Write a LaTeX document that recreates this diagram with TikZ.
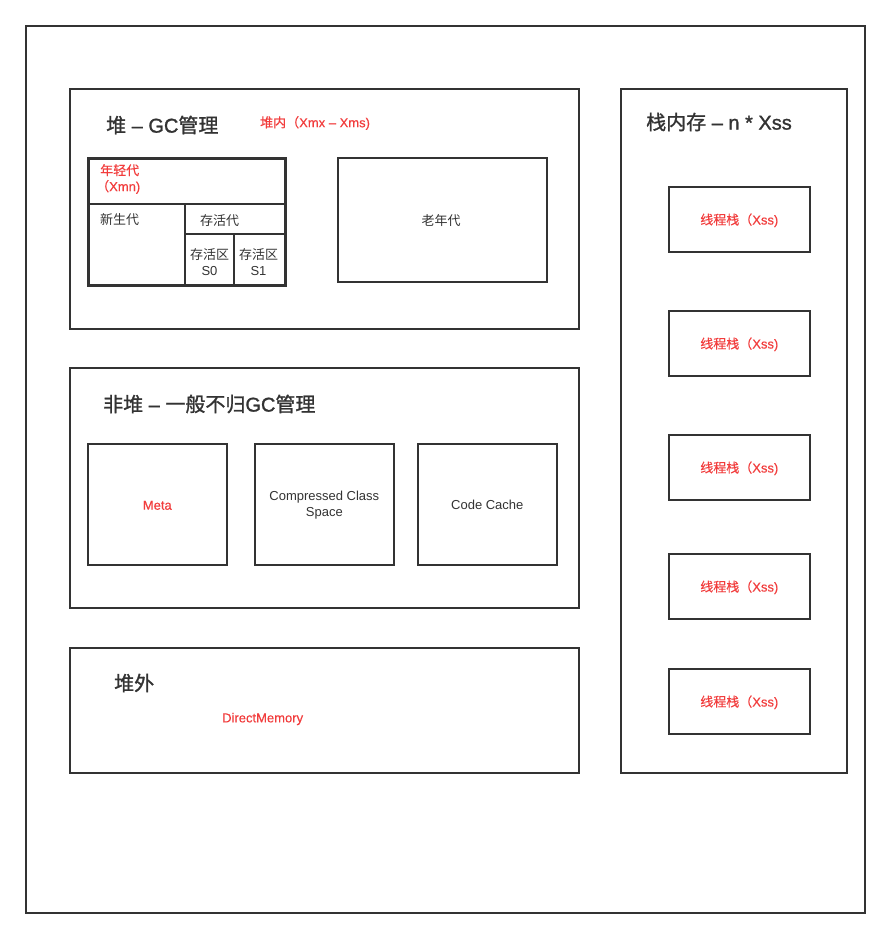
\documentclass[tikz,border=0pt]{standalone}
\usepackage{fontspec}
\setmainfont{Liberation Sans}
\newfontfamily\cjk{Noto Sans CJK SC}
\newfontfamily\cjkmed{Noto Sans CJK SC}[FakeBold=0.4]
\newfontfamily\cjkbold{Noto Sans CJK SC}[FakeBold=1.2]
\newfontfamily\latmed{Liberation Sans}[FakeBold=0.4]
\newfontfamily\latsemi{Liberation Sans}[FakeBold=1.3]
\definecolor{ink}{HTML}{333333}
\definecolor{hot}{HTML}{F23D3D}
% Chinese runs inside Latin text
\newcommand{\zh}[1]{{\cjk #1}}
\newcommand{\zhm}[1]{{\cjkmed #1}}
\newcommand{\zhb}[1]{{\cjkbold #1}}
\tikzset{
  x=1pt, y=-1pt,
  frame/.style={draw=ink, line width=1.6pt, fill=none, inner sep=0pt, anchor=north west},
  thick frame/.style={frame, line width=2.6pt},
  title/.style={text=ink, font=\latsemi\fontsize{20}{22}\selectfont, inner sep=0pt, anchor=west},
  note/.style={text=hot, font=\latmed\fontsize{13}{15}\selectfont, inner sep=0pt},
  plain/.style={text=ink, font=\fontsize{13}{16}\selectfont, inner sep=0pt, align=center},
}
\newcommand{\boxat}[6][frame]{%
  \node[#1, minimum width=#5-#3, minimum height=#6-#4] (#2) at (#3,#4) {};}
\begin{document}
\begin{tikzpicture}
\useasboundingbox (0,0) rectangle (889,937);
\fill[white] (0,0) rectangle (889,937);

% outer frame
\boxat{outer}{25}{25}{864}{912}

% heap
\boxat{heap}{69}{88}{578}{328}
\node[title] (heapT) at (106,125) {\zhb{堆} – GC\zhb{管理}};
\node[note, anchor=west] (heapN) at (260,123) {\zhm{堆内（}Xmx – Xms)};

% young generation
\boxat[thick frame]{young}{87}{157}{284}{284}
\draw[ink, line width=2.6pt] (87,204) -- (284,204);
\draw[ink, line width=2.6pt] (185,204) -- (185,284);
\draw[ink, line width=2.6pt] (185,234) -- (284,234);
\draw[ink, line width=2.6pt] (234,234) -- (234,284);
\node[note, anchor=west, align=left, font=\latmed\fontsize{13}{16}\selectfont] (youngT) at (96,179) {\hspace{4pt}\zhm{年轻代}\\\zhm{（}Xmn)};
\node[plain, anchor=west] (eden) at (100,220) {\zh{新生代}};
\node[plain, anchor=west] (surv) at (200,221) {\zh{存活代}};
\node[plain] (s0) at (209.5,262) {\zh{存活区}\\S0};
\node[plain] (s1) at (258.5,262) {\zh{存活区}\\S1};

% old generation
\boxat{old}{337}{157}{546}{281}
\node[plain] (oldT) at (441,221) {\zh{老年代}};

% non-heap
\boxat{nonheap}{69}{367}{578}{607}
\node[title] (nonheapT) at (103,404) {\zhb{非堆} – \zhb{一般不归}GC\zhb{管理}};
\boxat{meta}{87}{443}{226}{564}
\node[note] at ([yshift=-1pt]meta.center) {Meta};
\boxat{ccs}{254}{443}{393}{564}
\node[plain] at ([yshift=-1pt]ccs.center) {Compressed Class\\Space};
\boxat{cc}{417}{443}{556}{564}
\node[plain] at ([yshift=-1pt]cc.center) {Code Cache};

% off-heap
\boxat{offheap}{69}{647}{578}{772}
\node[title] (offheapT) at (114,683) {\zhb{堆外}};
\node[note, anchor=west] (direct) at (222,719) {DirectMemory};

% thread stacks
\boxat{stack}{620}{88}{846}{772}
\node[title] (stackT) at (646,122) {\zhb{栈内存} – n * Xss};
\foreach \i/\y in {1/186, 2/310, 3/434, 4/553, 5/668} {
  \boxat{ts\i}{668}{\y}{809}{\y+65}
  \node[note] at ([yshift=-1pt]ts\i.center) {\zhm{线程栈（}Xss)};
}
\end{tikzpicture}
\end{document}
